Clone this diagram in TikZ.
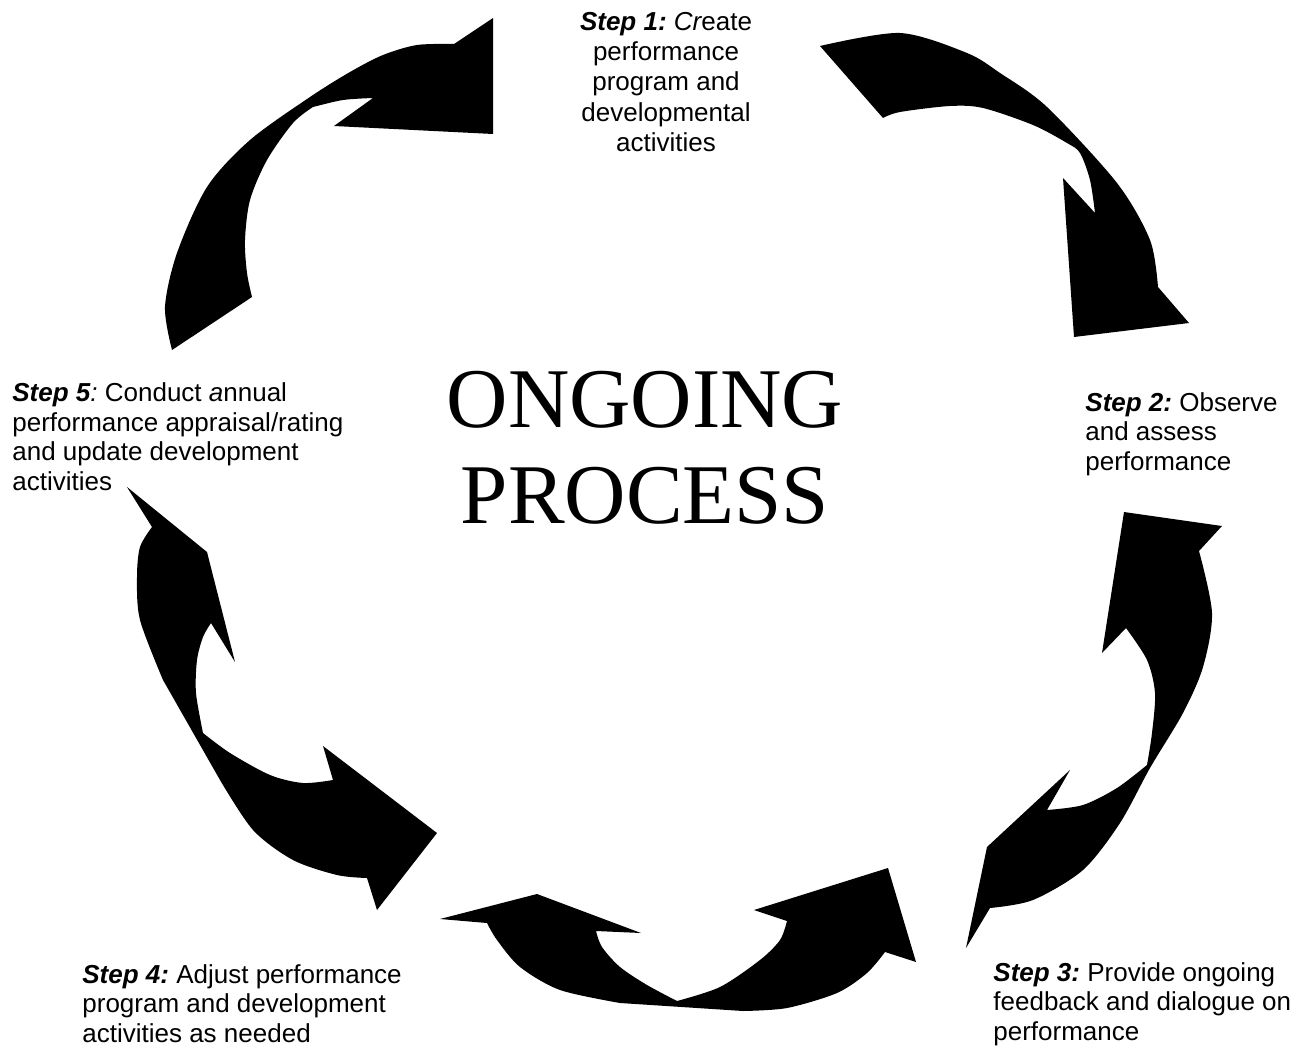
\documentclass[tikz,border=0pt]{standalone}
\usepackage{fontspec}
\setmainfont{Liberation Serif}
\newfontfamily\arial{Liberation Sans}
\usepackage{tikz}
\usetikzlibrary{positioning}
\frenchspacing

\begin{document}
\begin{tikzpicture}[x=0.5pt,y=-0.5pt]
    \tikzstyle{band}=[fill=black]
    \tikzstyle{steplabel}=[font=\arial\fontsize{13}{14.75}\selectfont,inner sep=0pt,align=left,anchor=base west]
    \useasboundingbox (0,0) rectangle (1307,1054);

    % step 1 -> step 2
    \fill[band] (820,46) -- plot[smooth] coordinates {(820,46) (900,33) (967,53) (1000,73) (1047,107) (1117,183) (1150,240) (1158,287)}
        -- (1189,323) -- (1074,337) -- (1063,178) -- (1095,213)
        -- plot[smooth] coordinates {(1095,213) (1090,180) (1080,153) (1067,143) (1033,125) (983,108) (950,106) (900,112) (883,118)} -- cycle;

    % step 2 -> step 3
    \fill[band] (1124,512) -- (1222,526) -- (1199,551)
        -- plot[smooth] coordinates {(1199,551) (1212,613) (1203,667) (1183,713) (1150,768) (1120,823) (1083,870) (1033,900) (990,908)}
        -- (966,948) -- (987,847) -- (1070,770) -- (1047,810)
        -- plot[smooth] coordinates {(1047,810) (1083,805) (1117,788) (1147,765)}
        -- plot[smooth] coordinates {(1147,765) (1152,733) (1155,693) (1147,660) (1126,628)}
        -- (1102,653) -- cycle;

    % step 3 -> step 4
    \fill[band] (440,919) -- (537,894) -- (641,933) -- (596,931)
        -- plot[smooth] coordinates {(596,931) (602,947) (620,967) (647,985) (677,1001)}
        -- plot[smooth] coordinates {(677,1001) (720,987) (760,960) (780,940) (787,921)}
        -- (754,910) -- (888,868) -- (916,962) -- (885,952)
        -- plot[smooth] coordinates {(885,952) (867,973) (837,993) (787,1008) (743,1011)}
        -- (620,1003)
        -- plot[smooth] coordinates {(620,1003) (560,990) (520,967) (497,940) (487,923)} -- cycle;

    % step 4 -> step 5
    \fill[band] (127,487) -- (207,552) -- (235,662) -- (211,623)
        -- plot[smooth] coordinates {(211,623) (203,637) (197,660) (196,693) (203,733)}
        -- plot[smooth] coordinates {(203,733) (230,753) (270,775) (303,783) (333,780)}
        -- (323,746) -- (437,833) -- (377,910) -- (367,878)
        -- plot[smooth] coordinates {(367,878) (337,875) (293,860) (253,830) (220,780)}
        -- (163,680)
        -- plot[smooth] coordinates {(163,680) (140,620) (137,577) (140,547) (152,527)} -- cycle;

    % step 5 -> step 1
    \fill[band] (172,350) -- (252,297)
        -- plot[smooth] coordinates {(252,297) (247,273) (245,240) (250,200) (267,160) (293,123) (313,107)}
        -- plot[smooth] coordinates {(313,107) (343,100) (373,98)}
        -- (334,126) -- (493,134) -- (493,18) -- (454,44)
        -- plot[smooth] coordinates {(454,44) (417,45) (383,55) (350,72) (310,97) (250,140) (207,187) (177,253) (165,307) (172,350)} -- cycle;

    % labels (base = last line)
    \node[steplabel,align=center,anchor=base,font=\arial\fontsize{13}{15.25}\selectfont] (s1) at (666,152)
        {{\bfseries\itshape Step 1:} {\itshape Cr}eate\\performance\\program and\\developmental\\activities};
    \node[steplabel] (s2) at (1085,470) {{\bfseries\itshape Step 2:} Observe\\and assess\\performance};
    \node[steplabel] (s3) at (993,1040) {{\bfseries\itshape Step 3:} Provide ongoing\\feedback and dialogue on\\performance};
    \node[steplabel] (s4) at (82,1042) {{\bfseries\itshape Step 4:} Adjust performance\\program and development\\activities as needed};
    \node[steplabel] (s5) at (12,490) {{\bfseries\itshape Step 5}{\itshape :} Conduct {\itshape a}nnual\\performance appraisal/rating\\and update development\\activities};

    \node[font=\fontsize{42.5}{48}\selectfont,align=center,anchor=base,inner sep=0pt] (title) at (645,523) {ONGOING\\PROCESS};
\end{tikzpicture}
\end{document}
